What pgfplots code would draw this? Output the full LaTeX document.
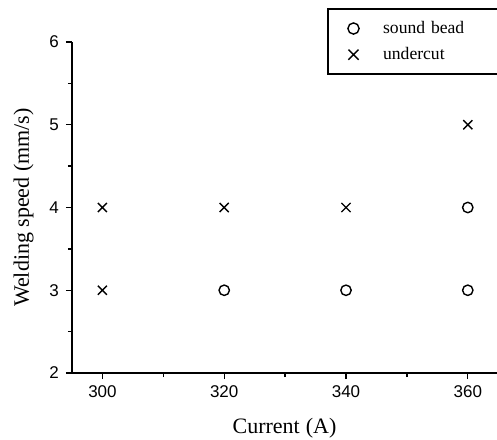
\documentclass[border=0pt]{standalone}
\usepackage{pgfplots}
\pgfplotsset{compat=1.18}
\usepackage{fontspec}
\setmainfont{Liberation Serif}
\newfontfamily\sansf{Liberation Sans}
\begin{document}
\begin{tikzpicture}
\begin{axis}[
  name=ax,
  scale only axis,
  width=212.5pt, height=165.5pt,
  xmin=295, xmax=364.8, ymin=2, ymax=6,
  axis x line*=bottom, axis y line*=left,
  axis line style={line width=0.9pt},
  xtick={300,320,340,360}, ytick={2,3,4,5,6},
  minor xtick={310,330,350}, minor ytick={2.5,3.5,4.5,5.5},
  tick align=outside,
  major tick length=3pt, minor tick length=2pt,
  tick style={line width=0.7pt, black},
  /pgf/number format/assume math mode=true,
  ticklabel style={font=\sansf\fontsize{8.5}{10}\selectfont},
  xlabel={Current\hspace{3pt}(A)}, ylabel={Welding speed (mm/s)},
  label style={font=\fontsize{11}{13}\selectfont},
  xlabel style={yshift=-3pt},
  ylabel style={yshift=1pt},
  legend style={at={(0.6,1.1027)}, anchor=north west, draw=black, line width=0.9pt,
    font=\fontsize{8.8}{10}\selectfont, row sep=1.5pt, inner xsep=10pt, inner ysep=4pt,
    text width=65pt},
  legend cell align=left,
  clip=false,
]
\addplot[only marks, mark=o, mark size=2.6pt, mark options={line width=0.7pt}, legend image code/.code={\draw[mark=o, mark size=2.8pt, line width=0.7pt] plot coordinates {(0.3cm,0cm)};}] coordinates {(320,3) (340,3) (360,3) (360,4)};
\addlegendentry{\hspace{10pt}sound bead}
\addplot[only marks, mark=x, mark size=3.2pt, mark options={line width=0.7pt}, legend image code/.code={\draw[mark=x, mark size=3.6pt, line width=0.7pt] plot coordinates {(0.3cm,0cm)};}] coordinates {(300,3) (300,4) (320,4) (340,4) (360,5)};
\addlegendentry{\hspace{10pt}undercut}
\end{axis}
\pgfresetboundingbox
\path ([shift={(-36pt,-33pt)}]ax.south west) rectangle ([shift={(0pt,21pt)}]ax.north east);
\end{tikzpicture}
\end{document}
